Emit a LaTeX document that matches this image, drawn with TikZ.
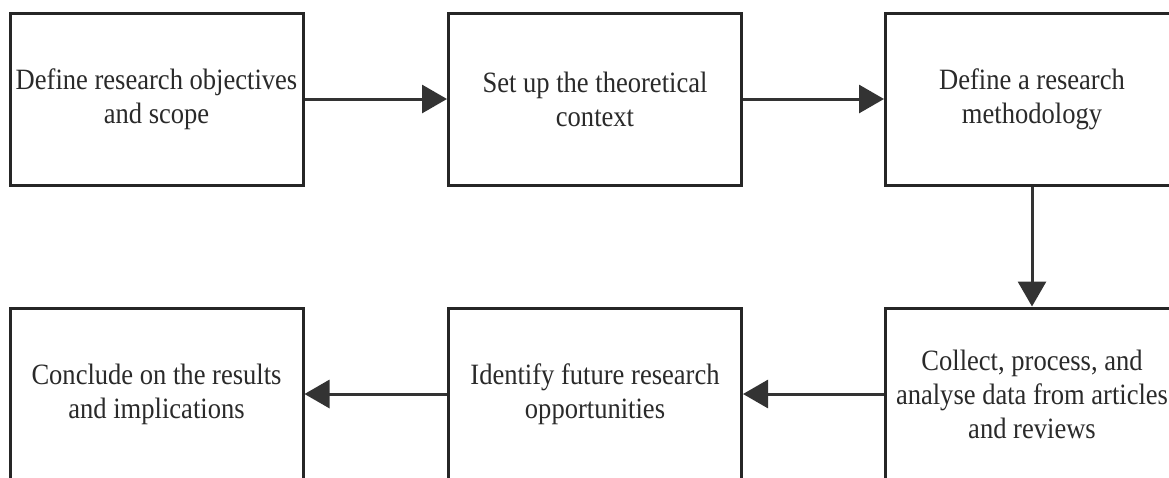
\documentclass[tikz,border=0pt]{standalone}
\usepackage{fontspec}
\setmainfont{Liberation Serif}[FakeStretch=0.9]
\usetikzlibrary{arrows.meta}
\definecolor{boxline}{HTML}{262626}
\definecolor{arrowcol}{HTML}{333333}
\definecolor{txt}{HTML}{2a2a2a}
\tikzset{
  stepbox/.style={draw=boxline, line width=3pt, fill=white, rectangle,
    minimum width=293pt, minimum height=172pt, align=center,
    font=\fontsize{29.5}{34}\selectfont, text=txt, inner sep=0pt,
    execute at begin node={\vrule height 25pt width 0pt\relax}},
  flow/.style={draw=arrowcol, line width=3pt,
    -{Triangle[length=25pt,width=28pt]}, color=arrowcol}
}
\begin{document}
\spaceskip=6.5pt\relax
\begin{tikzpicture}[x=1pt,y=-1pt]
\useasboundingbox (0,0) rectangle (1169,477);
\fill[white] (0,0) rectangle (1169,477);
\clip (0,0) rectangle (1169,477);
\node[stepbox] (b1) at (156.5,99) {Define research objectives\\and scope};
\node[stepbox] (b2) at (595,99) {Set up the theoretical\\context};
\node[stepbox] (b3) at (1032,99) {Define a research\\methodology};
\node[stepbox] (b4) at (156.5,394) {Conclude on the results\\and implications};
\node[stepbox] (b5) at (595,394) {Identify future research\\opportunities};
\node[stepbox] (b6) at (1032,394) {Collect, process, and\\analyse data from articles\\and reviews};
\draw[flow] (b1) -- (b2);
\draw[flow] (b2) -- (b3);
\draw[flow] (b3) -- (b6);
\draw[flow] (b6) -- (b5);
\draw[flow] (b5) -- (b4);
\end{tikzpicture}
\end{document}
